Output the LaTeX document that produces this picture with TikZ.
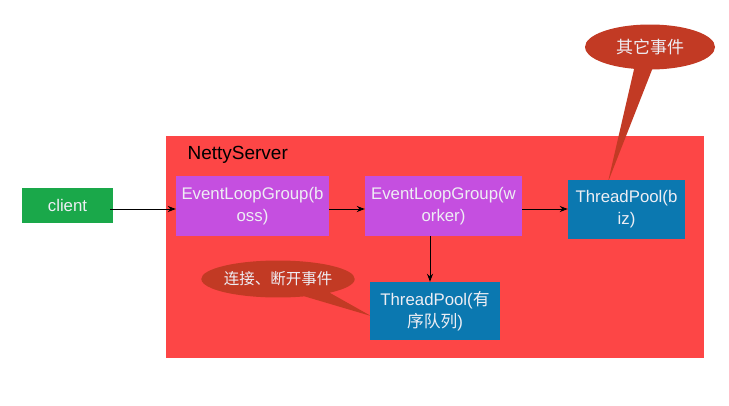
\documentclass[tikz,border=0pt]{standalone}
\usepackage{fontspec}
\setmainfont{Liberation Sans}
\newfontfamily\cjk{Noto Sans CJK SC}
\usetikzlibrary{shapes.callouts,arrows.meta}
\definecolor{srvred}{HTML}{FD4646}
\definecolor{purp}{HTML}{C54FE0}
\definecolor{bluebx}{HTML}{0B78B0}
\definecolor{greenbx}{HTML}{1AA84A}
\definecolor{bubble}{HTML}{C23A24}
\definecolor{txtw}{HTML}{EEEEF4}
\tikzset{
  box/.style={rectangle, inner sep=0pt, align=center, text=txtw, font=\fontsize{16.8}{22}\selectfont},
  arr/.style={-{Stealth[length=8pt,width=6pt]}, line width=0.9pt, black},
  bub/.style={ellipse callout, fill=bubble, text=txtw, inner sep=0pt}
}
\begin{document}
\begin{tikzpicture}[x=1pt,y=-1pt]
\useasboundingbox[fill=white] (0,0) rectangle (729,405);
\node[rectangle, fill=srvred, minimum width=538pt, minimum height=222pt, inner sep=0pt] (srv) at (435,247) {};
\node[anchor=west, font=\fontsize{19}{22}\selectfont] (title) at (184,155) {NettyServer};
\node[bub, minimum width=130pt, minimum height=45pt, callout absolute pointer={(608,182)}, callout pointer arc=16, font=\cjk\fontsize{17}{20}\selectfont] (b1) at (650,47) {其它事件};
\node[bub, minimum width=137pt, minimum height=37pt, callout absolute pointer={(371,316)}, callout pointer arc=22, font=\cjk\fontsize{15.5}{18}\selectfont] (b2) at (278,279) {连接、断开事件};
\node[box, fill=greenbx, minimum width=91pt, minimum height=35pt] (client) at (67.5,205.5) {client};
\node[box, fill=purp, minimum width=153pt, minimum height=60pt] (boss) at (252.5,206) {EventLoopGroup(b\\oss)};
\node[box, fill=purp, minimum width=157pt, minimum height=60pt] (worker) at (443.5,206) {EventLoopGroup(w\\orker)};
\node[box, fill=bluebx, minimum width=117pt, minimum height=59pt] (biz) at (626.5,209.5) {ThreadPool(b\\iz)};
\node[box, fill=bluebx, minimum width=130pt, minimum height=58pt] (ord) at (435,311) {ThreadPool({\cjk 有}\\{\cjk 序队列})};
\coordinate (c1) at (110,209);
\draw[arr] (c1) -- (c1 -| boss.west);
\coordinate (c2) at (329,209);
\draw[arr] (c2) -- (c2 -| worker.west);
\coordinate (c3) at (522,209);
\draw[arr] (c3) -- (c3 -| biz.west);
\coordinate (c4) at (430,236);
\draw[arr] (c4) -- (c4 |- ord.north);
\end{tikzpicture}
\end{document}
